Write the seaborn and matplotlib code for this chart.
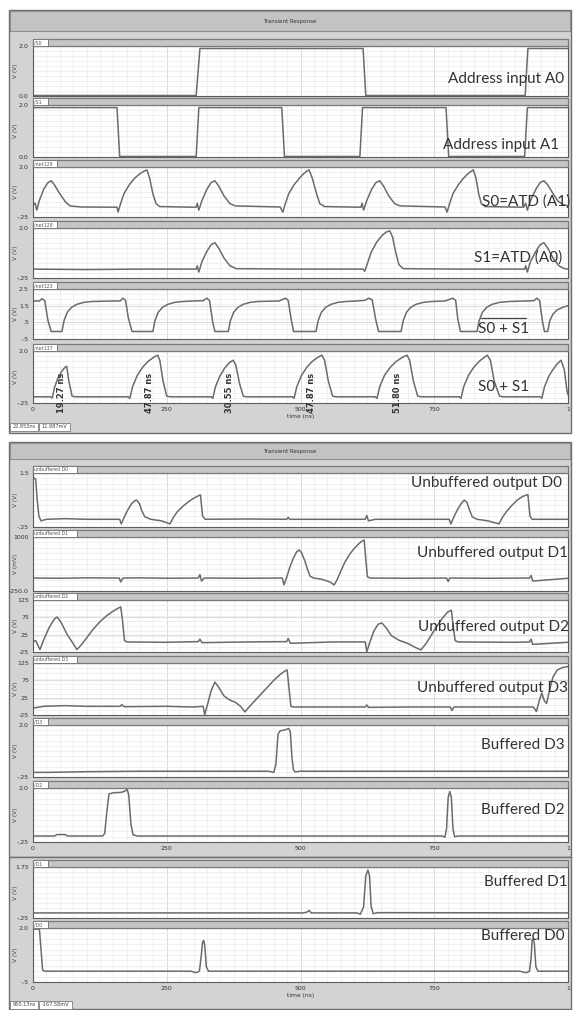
import numpy as np
import matplotlib
matplotlib.use("Agg")
import matplotlib.pyplot as plt
from matplotlib.patches import Rectangle
from matplotlib.lines import Line2D
import seaborn as sns

# ---- waveforms: time in ns, value in V (mV for D1..D3) ----
a0_t = [0, 305, 312, 617, 622, 920, 925, 1000]
a0_v = [0.02, 0.02, 1.9, 1.9, 0.02, 0.02, 1.9, 1.9]

a1_t = [0, 157, 162, 305, 310, 465, 470, 611, 616, 772, 777, 919, 924, 1000]
a1_v = [1.9, 1.9, 0.02, 0.02, 1.9, 1.9, 0.02, 0.02, 1.9, 1.9, 0.02, 0.02, 1.9, 1.9]

s0_t = [0, 4, 7, 12, 20, 28, 34, 40, 50, 60, 69, 90, 157,
        159, 163, 170, 180, 190, 200, 208, 213, 218, 224, 230, 237, 300,
        305, 307, 310, 316, 325, 333, 340, 347, 357, 368, 378, 462,
        467, 471, 478, 488, 498, 506, 512, 516, 522, 530, 536, 545, 610,
        613, 615, 618, 624, 633, 641, 648, 655, 665, 676, 686, 770,
        774, 778, 785, 795, 805, 813, 820, 823, 828, 833, 838, 845, 917,
        921, 924, 930, 940, 948, 955, 962, 972, 982, 992, 1000]
s0_v = [0.28, 0.37, 0.06, 0.5, 1.0, 1.3, 1.38, 1.2, 0.8, 0.45, 0.25, 0.2, 0.19,
        -0.03, 0.3, 0.8, 1.2, 1.5, 1.7, 1.82, 1.87, 1.5, 0.8, 0.35, 0.22, 0.19,
        0.19, 0.37, 0.06, 0.5, 1.0, 1.3, 1.38, 1.15, 0.7, 0.35, 0.25, 0.2,
        -0.03, 0.3, 0.8, 1.2, 1.5, 1.7, 1.82, 1.87, 1.5, 0.8, 0.35, 0.22, 0.19,
        0.19, 0.37, 0.06, 0.5, 1.0, 1.3, 1.38, 1.15, 0.7, 0.35, 0.25, 0.2,
        -0.03, 0.3, 0.8, 1.2, 1.5, 1.7, 1.82, 1.87, 1.5, 0.8, 0.35, 0.22, 0.19,
        0.37, 0.06, 0.5, 1.0, 1.3, 1.38, 1.2, 0.8, 0.45, 0.3, 0.25]

s1_t = [0, 100, 200, 305, 307, 310, 316, 325, 333, 340, 347, 357, 368, 380, 500,
        617, 620, 625, 632, 642, 652, 660, 667, 672, 678, 684, 692, 800,
        919, 921, 924, 930, 940, 948, 955, 962, 972, 983, 993, 1000]
s1_v = [0.15, 0.13, 0.15, 0.15, 0.3, 0.02, 0.5, 0.95, 1.25, 1.34, 1.1, 0.65, 0.3, 0.17, 0.15,
        0.15, 0.05, 0.4, 0.9, 1.35, 1.65, 1.82, 1.87, 1.6, 0.9, 0.35, 0.17, 0.15,
        0.15, 0.3, 0.02, 0.5, 0.95, 1.25, 1.34, 1.1, 0.65, 0.3, 0.17, 0.15]

nor_t = [0, 12, 17, 22, 28, 34, 54, 58, 64, 72, 82, 95, 110, 150,
         163, 168, 173, 178, 185, 224, 228, 234, 242, 252, 265, 280, 300,
         318, 325, 330, 336, 340, 365, 369, 375, 383, 393, 406, 420, 460,
         472, 477, 482, 487, 529, 533, 539, 547, 557, 570, 585, 605,
         620, 628, 634, 641, 646, 688, 692, 698, 706, 716, 730, 745, 770,
         785, 790, 794, 799, 830, 834, 840, 848, 858, 872, 890, 920,
         936, 942, 947, 952, 956, 962, 966, 972, 980, 990, 1000]
nor_v = [1.78, 1.78, 1.92, 1.8, 0.6, -0.05, -0.05, 0.6, 1.1, 1.4, 1.58, 1.7, 1.75, 1.78,
         1.78, 1.95, 1.82, 0.8, -0.05, -0.05, 0.6, 1.1, 1.4, 1.58, 1.7, 1.75, 1.78,
         1.8, 1.95, 1.8, 0.5, -0.05, -0.05, 0.6, 1.1, 1.4, 1.58, 1.7, 1.75, 1.78,
         1.95, 1.82, 0.8, -0.05, -0.05, 0.6, 1.1, 1.4, 1.58, 1.7, 1.75, 1.78,
         1.82, 1.95, 1.85, 0.6, -0.05, -0.05, 0.6, 1.1, 1.4, 1.58, 1.7, 1.75, 1.78,
         1.95, 1.82, 0.7, -0.05, -0.05, 0.6, 1.1, 1.4, 1.58, 1.7, 1.75, 1.78,
         1.8, 1.95, 1.8, 0.6, -0.05, -0.05, 0.6, 1.0, 1.25, 1.4, 1.5]

or_t = [0, 33, 36, 40, 46, 53, 60, 63, 67, 73, 78,
        178, 181, 186, 195, 205, 215, 225, 233, 237, 243, 250, 256,
        333, 336, 341, 349, 358, 367, 374, 379, 386, 393, 398,
        485, 488, 493, 502, 512, 522, 532, 540, 545, 552, 560, 566,
        640, 643, 648, 657, 668, 679, 690, 699, 704, 711, 719, 725,
        797, 800, 805, 814, 824, 834, 843, 849, 855, 862, 872, 878,
        948, 951, 956, 964, 972, 980, 987, 993, 998, 1000]
or_v = [0.02, 0.02, -0.03, 0.4, 0.8, 1.1, 1.3, 1.34, 0.7, 0.05, 0.02,
        0.02, -0.05, 0.45, 0.95, 1.3, 1.55, 1.72, 1.82, 1.6, 0.7, 0.05, 0.02,
        0.02, -0.05, 0.45, 0.9, 1.25, 1.5, 1.6, 1.4, 0.6, 0.05, 0.02,
        0.02, -0.05, 0.45, 0.95, 1.3, 1.55, 1.72, 1.82, 1.6, 0.7, 0.05, 0.02,
        0.02, -0.05, 0.45, 0.95, 1.3, 1.55, 1.72, 1.82, 1.6, 0.7, 0.05, 0.02,
        0.02, -0.05, 0.45, 0.95, 1.3, 1.55, 1.72, 1.82, 1.6, 0.7, 0.05, 0.02,
        0.02, -0.05, 0.45, 0.9, 1.2, 1.45, 1.6, 1.2, 0.3, 0.1]
pulse_widths = ["19.27 ns", "47.87 ns", "30.55 ns", "47.87 ns", "51.80 ns"]

d0_t = [0, 5, 8, 11, 15, 25, 60, 100, 162, 165, 170, 177, 184, 190, 194, 199, 204, 209, 220, 240,
        256, 262, 270, 280, 290, 300, 310, 313, 317, 322, 400, 474, 477, 480, 560, 621, 624, 627, 640, 700,
        778, 781, 786, 793, 800, 806, 811, 816, 821, 830, 850, 871, 877, 885, 895, 905, 915, 925, 929, 933,
        940, 1000]
d0_v = [1.35, 1.3, 0.6, 0.1, -0.05, 0.0, 0.02, 0.0, 0.0, -0.15, 0.05, 0.3, 0.5, 0.6, 0.62, 0.5, 0.25, 0.08, 0.0, -0.05,
        -0.15, 0.05, 0.25, 0.42, 0.56, 0.68, 0.77, 0.79, 0.1, 0.0, 0.01, 0.0, 0.06, 0.0, 0.0, 0.0, 0.12, -0.05, 0.0, 0.0,
        0.0, -0.15, 0.05, 0.3, 0.5, 0.62, 0.55, 0.3, 0.08, 0.0, -0.05, -0.15, 0.05, 0.25, 0.45, 0.62, 0.74, 0.8, 0.1, 0.0,
        0.0, 0.0]

d1_t = [0, 50, 100, 161, 164, 168, 200, 250, 309, 312, 315, 320, 400, 466, 469, 474, 480, 487, 493, 497,
        502, 508, 514, 518, 525, 540, 555, 563, 568, 575, 583, 592, 600, 608, 614, 619, 622, 625, 630, 700,
        773, 776, 779, 850, 928, 931, 934, 1000]
d1_v = [50, 45, 55, 50, -40, 50, 55, 45, 50, 130, -20, 50, 45, 50, -110, 60, 300, 520, 660, 700,
        640, 450, 220, 90, 50, 20, -40, -110, 0, 200, 420, 600, 730, 830, 900, 930, 500, 80, 50, 45,
        50, -30, 50, 45, 50, 110, -20, 45]

d2_t = [0, 5, 13, 20, 30, 40, 45, 52, 64, 74, 82, 90, 100, 112, 125, 138, 150, 160, 164, 167,
        171, 176, 250, 309, 312, 316, 400, 474, 477, 481, 560, 621, 624, 630, 637, 645, 652, 660, 670, 684,
        700, 715, 725, 735, 745, 755, 765, 775, 782, 785, 789, 795, 900, 928, 931, 934, 1000]
d2_v = [5, 8, -18, 10, 45, 70, 76, 62, 25, 2, -18, -5, 15, 40, 62, 80, 93, 102, 105, 70,
        8, 4, 3, 5, 12, 2, 4, 5, 14, 0, 4, 4, -24, 5, 35, 55, 59, 45, 22, 9,
        0, -12, -19, 0, 25, 50, 72, 90, 96, 55, 8, 4, 3, 4, 12, -3, 3]

d3_t = [0, 20, 60, 100, 163, 166, 170, 250, 300, 318, 321, 327, 333, 340, 347, 357, 368, 378, 388, 396,
        405, 420, 435, 450, 462, 470, 475, 478, 482, 486, 560, 621, 624, 627, 700, 780, 783, 787, 900, 935,
        941, 946, 951, 956, 960, 966, 972, 980, 990, 1000]
d3_v = [-5, 0, 2, 0, 0, 5, -1, 0, -2, 0, -24, 10, 45, 70, 55, 30, 18, 12, 0, -16,
        0, 25, 50, 75, 92, 101, 105, 60, 0, -2, -2, -2, 4, -3, -2, -2, -12, -2, -2, -2,
        -15, 15, 38, 15, 8, 50, 85, 105, 112, 115]

bd3_t = [0, 30, 100, 200, 300, 440, 450, 454, 458, 462, 470, 478, 481, 484, 487, 490, 500, 1000]
bd3_v = [-0.05, -0.05, -0.02, 0.0, 0.0, 0.0, -0.05, 0.3, 1.6, 1.75, 1.78, 1.85, 1.7, 0.6, 0.05, -0.03, 0.0, 0.0]

bd2_t = [0, 40, 45, 60, 65, 130, 134, 138, 142, 150, 165, 172, 176, 179, 183, 187, 195,
         765, 770, 773, 776, 779, 782, 785, 788, 795, 1000]
bd2_v = [0.0, 0.0, 0.06, 0.06, 0.0, 0.0, 0.1, 1.0, 1.75, 1.8, 1.82, 1.87, 1.95, 1.7, 0.5, 0.05, 0.0,
         0.0, -0.05, 0.3, 1.6, 1.85, 1.6, 0.3, -0.03, 0.0, 0.0]

bd1_t = [0, 505, 512, 516, 520, 605, 612, 618, 622, 626, 629, 632, 636, 645, 1000]
bd1_v = [-0.05, -0.05, -0.02, 0.05, -0.05, -0.05, -0.1, 0.2, 1.4, 1.63, 1.4, 0.2, -0.08, -0.04, -0.05]

bd0_t = [0, 12, 15, 18, 22, 295, 305, 311, 314, 317, 319, 321, 324, 328,
         910, 922, 928, 931, 933, 935, 937, 940, 944, 1000]
bd0_v = [1.95, 1.95, 1.0, 0.05, 0.0, 0.0, -0.07, 0.0, 0.6, 1.35, 1.42, 1.2, 0.2, 0.0,
         0.0, -0.07, 0.0, 0.6, 1.45, 1.5, 1.3, 0.2, 0.0, 0.0]

x_ticks = [0, 250, 500, 750, 1000]
x_ticklabels = ["0", "250", "500", "750", "1"]

# ---- figure in pixel units ----
W, H = 574, 1010
LINE = "#6b6b6b"
FRAME = "#d3d3d3"
X0, X1 = 33, 568

sns.set_style("white")
plt.rcParams["font.family"] = ["DejaVu Sans"]

fig = plt.figure(figsize=(W / 100, H / 100), dpi=100)
fig.patch.set_facecolor("white")


def rect(x0, y0, x1, y1, fc, ec="#7d7d7d", lw=0.8, z=-5):
    fig.add_artist(Rectangle((x0 / W, 1 - y1 / H), (x1 - x0) / W, (y1 - y0) / H,
                             transform=fig.transFigure, facecolor=fc, edgecolor=ec, lw=lw, zorder=z))


def text(x, y, s, **kw):
    fig.text(x / W, 1 - y / H, s, **kw)


def panel(t, v, hdr, bot, ylim, ticks, labels, tab, tab_w, unit="V (V)", xlabels=False, xtitle=False):
    top = hdr + 7
    rect(X0, hdr, X1, top, "#c6c6c6", "#7a7a7a", 0.9, z=1)
    rect(X0, hdr, X0 + tab_w, top, "white", "#7a7a7a", 0.7, z=2)
    text(X0 + 1.5, hdr + 3.6, tab, fontsize=3.4, color="#555555", va="center", zorder=4)
    ax = fig.add_axes([X0 / W, 1 - bot / H, (X1 - X0) / W, (bot - top) / H])
    sns.lineplot(x=t, y=v, ax=ax, color=LINE, linewidth=1.1, estimator=None, sort=False)
    ax.set_xlim(0, 1000)
    ax.set_ylim(*ylim)
    ax.set_xticks(x_ticks)
    ax.set_xticks(np.arange(0, 1001, 25), minor=True)
    ax.set_yticks(ticks)
    ax.set_yticklabels(labels)
    ax.set_yticks(np.linspace(ylim[0], ylim[1], 11), minor=True)
    ax.grid(True, which="minor", color="#ebebeb", lw=0.5)
    ax.grid(True, which="major", color="#d6d6d6", lw=0.6)
    ax.set_xlabel("")
    ax.set_ylabel("")
    for s in ax.spines.values():
        s.set_color("#5c5c5c")
        s.set_linewidth(0.8)
    ax.tick_params(axis="y", which="major", direction="out", length=2, width=0.6,
                   labelsize=4.5, pad=1, colors="#333333")
    ax.tick_params(axis="y", which="minor", direction="out", length=1.2, width=0.5, colors="#555555")
    if xlabels:
        ax.set_xticklabels(x_ticklabels)
        ax.tick_params(axis="x", which="major", direction="in", length=2.5, width=0.6,
                       labelsize=4.5, pad=3, colors="#333333")
        ax.tick_params(axis="x", which="minor", direction="in", length=1.5, width=0.5)
    else:
        ax.tick_params(axis="x", which="both", length=0, labelbottom=False)
    if xtitle:
        ax.set_xlabel("time (ns)", fontsize=4.3, color="#333333", labelpad=1)
    text(15, (top + bot) / 2, unit, rotation=90, fontsize=4.2, color="#444444",
         ha="center", va="center")
    return ax


# window frames
rect(9, 10, 571, 433, FRAME, "#6e6e6e", 1.0)
rect(10, 11, 570, 31, "#c3c3c3", "#8f8f8f", 0.8, z=-4)
text(290, 21, "Transient Response", fontsize=4, ha="center", va="center", color="#333333")
rect(9, 442, 571, 857, FRAME, "#6e6e6e", 1.0)
rect(10, 443, 570, 459, "#c3c3c3", "#8f8f8f", 0.8, z=-4)
text(290, 451, "Transient Response", fontsize=4, ha="center", va="center", color="#333333")
rect(9, 857, 571, 1009, FRAME, "#6e6e6e", 1.0)

lim2 = (-0.25, 2.0)
panel(a0_t, a0_v, 39, 96, (0, 2.0), [0, 2.0], ["0.0", "2.0"], "/S0", 15)
panel(a1_t, a1_v, 98, 157, (0, 2.0), [0, 2.0], ["0.0", "2.0"], "/S1", 15)
panel(s0_t, s0_v, 160, 217, lim2, [-0.25, 2.0], ["-.25", "2.0"], "/net129", 24)
panel(s1_t, s1_v, 221, 278, lim2, [-0.25, 2.0], ["-.25", "2.0"], "/net128", 24)
panel(nor_t, nor_v, 282, 339, (-0.5, 2.5), [-0.5, 0.5, 1.5, 2.5], ["-.5", ".5", "1.5", "2.5"], "/net123", 24)
panel(or_t, or_v, 344, 403, lim2, [-0.25, 2.0], ["-.25", "2.0"], "/net137", 24, xlabels=True, xtitle=True)

panel(d0_t, d0_v, 466, 527, (-0.25, 1.5), [-0.25, 1.5], ["-.25", "1.5"], "unbuffered D0", 44)
panel(d1_t, d1_v, 530, 591, (-250, 1000), [-250, 1000], ["-250.0", "1000"], "unbuffered D1", 44, unit="V (mV)")
panel(d2_t, d2_v, 593, 652, (-25, 125), [-25, 25, 75, 125], ["-25", "25", "75", "125"], "unbuffered D2", 44)
panel(d3_t, d3_v, 656, 715, (-25, 125), [-25, 25, 75, 125], ["-25", "25", "75", "125"], "unbuffered D3", 44)
panel(bd3_t, bd3_v, 718, 777, lim2, [-0.25, 2.0], ["-.25", "2.0"], "/D3", 15)
panel(bd2_t, bd2_v, 781, 842, lim2, [-0.25, 2.0], ["-.25", "2.0"], "/D2", 15, xlabels=True)

panel(bd1_t, bd1_v, 860, 918, (-0.25, 1.75), [-0.25, 1.75], ["-.25", "1.75"], "/D1", 15)
panel(bd0_t, bd0_v, 921, 982, (-0.5, 2.0), [-0.5, 2.0], ["-.5", "2.0"], "/D0", 15, xlabels=True, xtitle=True)

# signal names
big = dict(fontsize=11, color="#333333", ha="right", va="center", family=["Lato", "DejaVu Sans"], zorder=6)
for s, x, y in [("Address input A0", 564, 79), ("Address input A1", 559, 145),
                ("S0=ATD (A1)", 570, 202), ("S1=ATD (A0)", 562, 258),
                ("S0 + S1", 529, 329), ("S0 + S1", 529, 387),
                ("Unbuffered output D0", 562, 483), ("Unbuffered output D1", 568, 553),
                ("Unbuffered output D2", 569, 627), ("Unbuffered output D3", 568, 688),
                ("Buffered D3", 565, 745), ("Buffered D2", 565, 810),
                ("Buffered D1", 568, 882), ("Buffered D0", 565, 936)]:
    text(x, y, s, **big)
fig.add_artist(Line2D([481 / W, 526 / W], [1 - 318 / H, 1 - 318 / H], color="#444444", lw=0.9,
                      transform=fig.transFigure, zorder=6))

# measured pulse widths on the OR trace
for s, x in zip(pulse_widths, [62, 150, 229, 312, 397]):
    text(x, 393, s, rotation=90, fontsize=6, fontweight="bold", color="#333333",
         ha="center", va="center", zorder=6)

# cursor readouts
for x0, x1, y0, s in [(10, 38, 423, "22.853ns"), (39, 70, 423, "12.987mV"),
                      (10, 38, 1001, "950.13ns"), (39, 72, 1001, "-167.58mV")]:
    rect(x0, y0, x1, y0 + 8, "white", "#7d7d7d", 0.6, z=2)
    text((x0 + x1) / 2, y0 + 4, s, fontsize=3.6, color="#444444", ha="center", va="center", zorder=4)

fig.savefig("out.png", dpi=100)
